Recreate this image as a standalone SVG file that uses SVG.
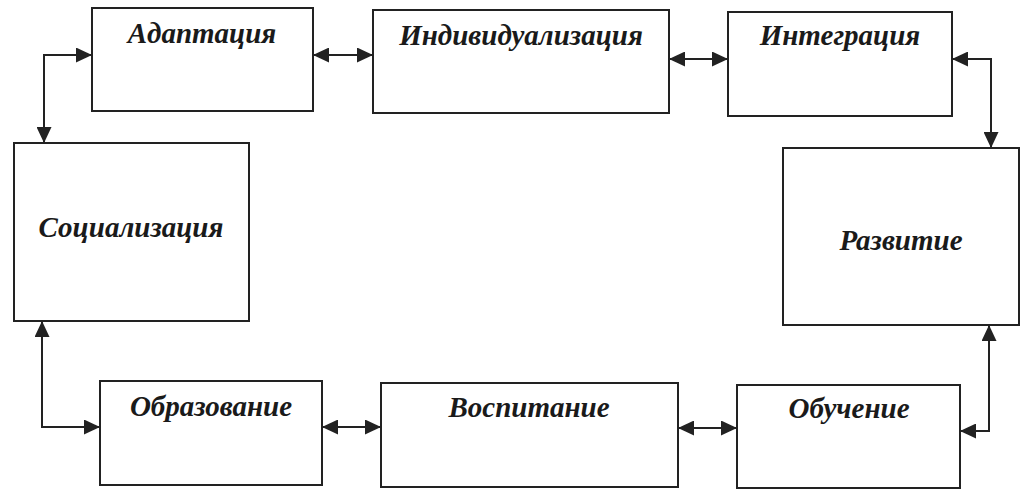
<svg xmlns="http://www.w3.org/2000/svg" width="1036" height="496" viewBox="0 0 1036 496">
<style>
.box{fill:#fff;stroke:#222;stroke-width:2}
.lbl{font-family:"Liberation Serif","Times New Roman",serif;font-weight:bold;font-style:italic;font-size:29px;fill:#1a1a1a;text-anchor:middle}
.con{fill:none;stroke:#222;stroke-width:2;marker-start:url(#ah);marker-end:url(#ah)}
</style>
<defs>
<marker id="ah" markerUnits="userSpaceOnUse" markerWidth="17" markerHeight="15" refX="16" refY="7.5" orient="auto-start-reverse">
<path d="M0,0 L16,7.5 L0,15 z" fill="#222"/>
</marker>
</defs>
<rect width="1036" height="496" fill="#fff"/>
<g id="connectors">
<path class="con" d="M44,143 V55 H92"/>
<path class="con" d="M313,55 H373"/>
<path class="con" d="M669,59 H728"/>
<path class="con" d="M952,59 H991 V148"/>
<path class="con" d="M42,321 V427 H100"/>
<path class="con" d="M322,427 H381"/>
<path class="con" d="M678,428 H737"/>
<path class="con" d="M960,431 H989 V325"/>
</g>
<g id="adaptatsiya"><rect class="box" x="92" y="8" width="221" height="103"/><text class="lbl" x="202" y="43">Адаптация</text></g>
<g id="individualizatsiya"><rect class="box" x="373" y="10" width="296" height="103"/><text class="lbl" x="521" y="45">Индивидуализация</text></g>
<g id="integratsiya"><rect class="box" x="728" y="12" width="224" height="104"/><text class="lbl" x="840" y="45">Интеграция</text></g>
<g id="sotsializatsiya"><rect class="box" x="14" y="143" width="235" height="178"/><text class="lbl" x="131" y="237">Социализация</text></g>
<g id="razvitie"><rect class="box" x="783" y="148" width="236" height="177"/><text class="lbl" x="901" y="250">Развитие</text></g>
<g id="obrazovanie"><rect class="box" x="100" y="381" width="222" height="104"/><text class="lbl" x="211" y="416">Образование</text></g>
<g id="vospitanie"><rect class="box" x="381" y="383" width="297" height="104"/><text class="lbl" x="529" y="417">Воспитание</text></g>
<g id="obuchenie"><rect class="box" x="737" y="385" width="223" height="103"/><text class="lbl" x="849" y="418">Обучение</text></g>
</svg>
